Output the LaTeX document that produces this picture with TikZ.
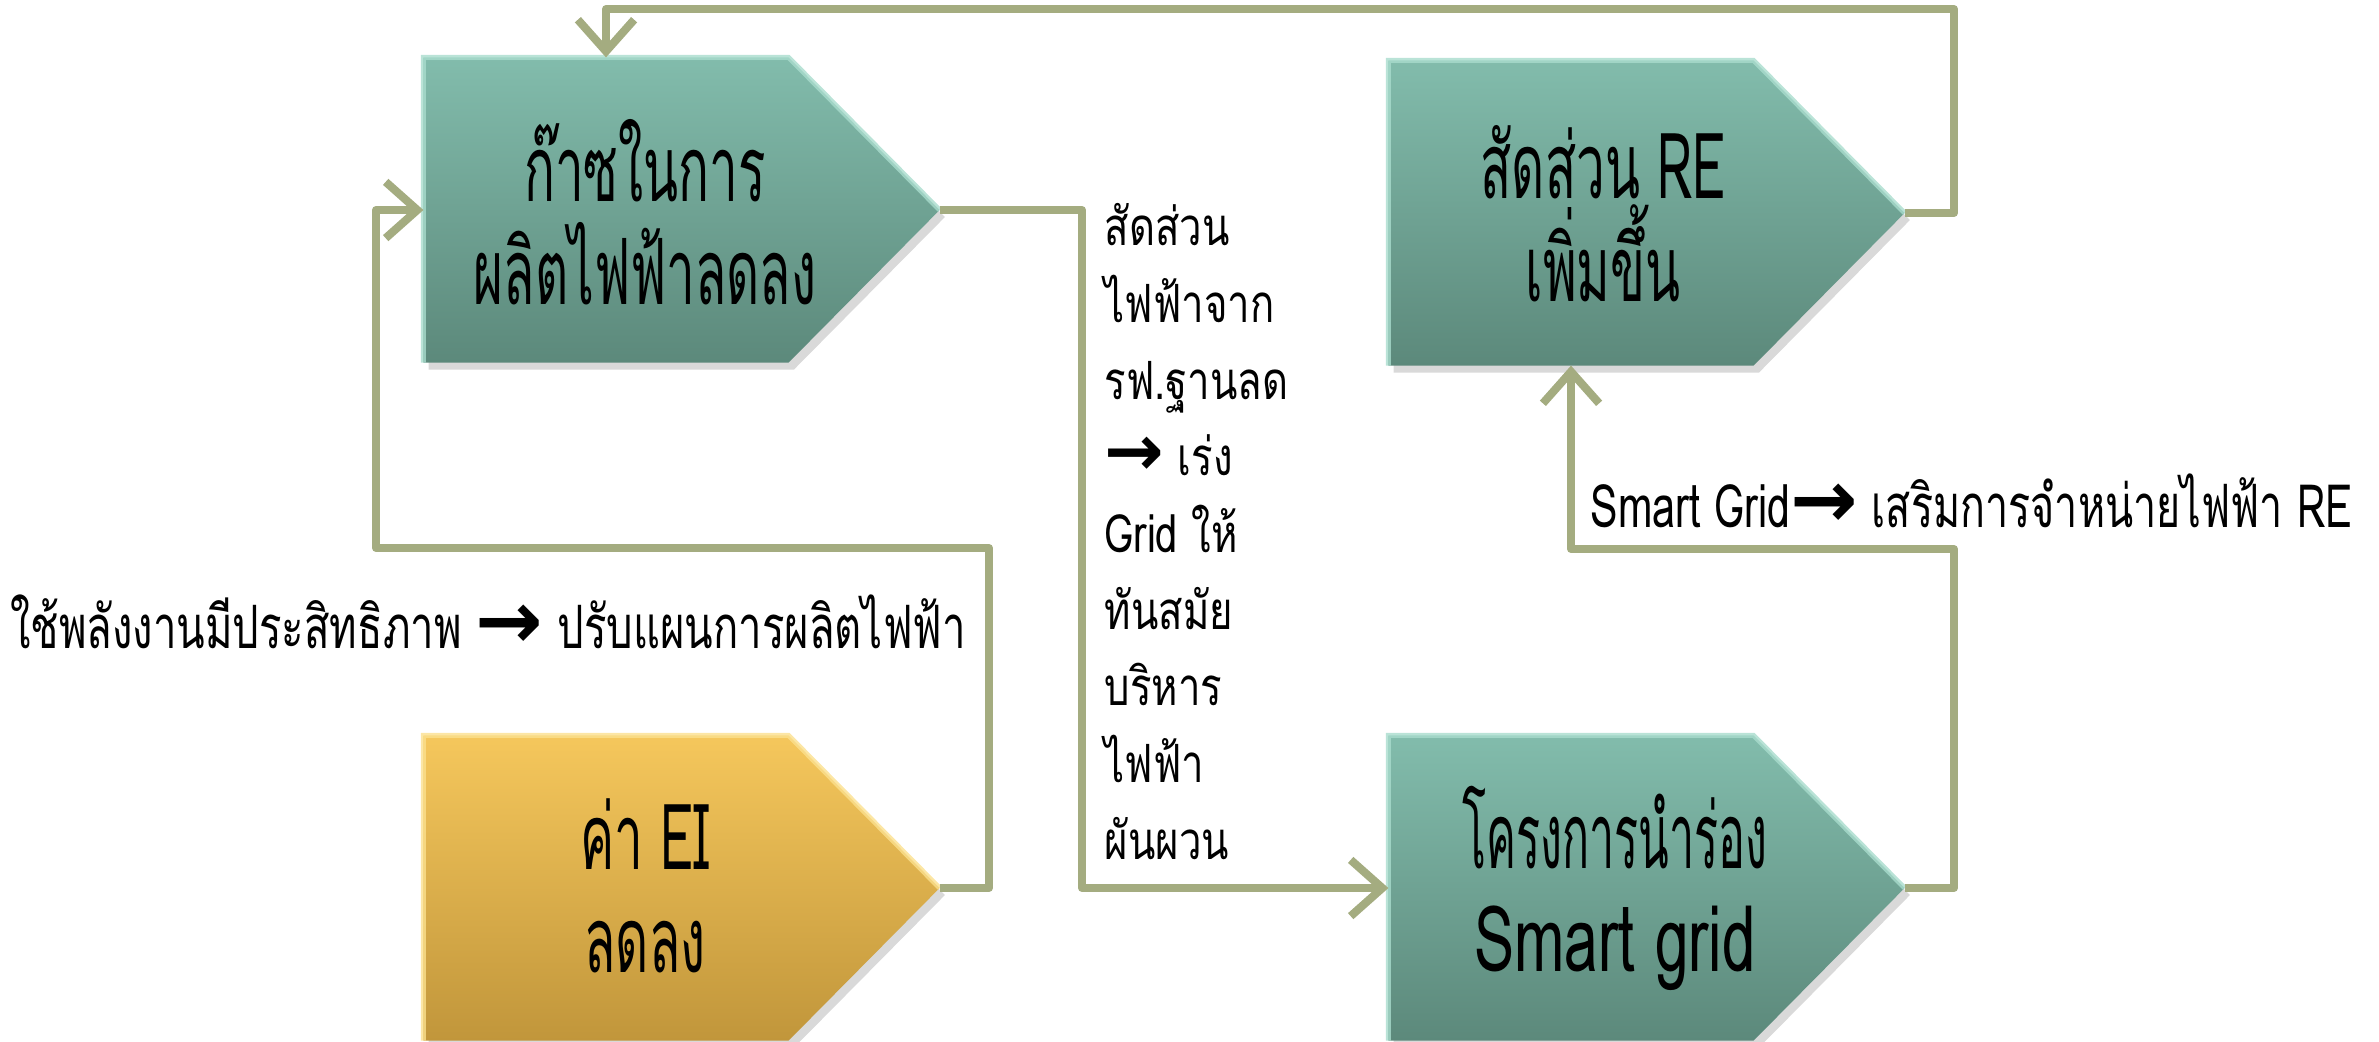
\documentclass[tikz,border=0pt]{standalone}
\usepackage{fontspec}
\usepackage{graphicx}
\usetikzlibrary{arrows.meta,calc,shadows}
\newfontfamily\thaicond[Script=Thai,FakeStretch=0.56]{Loma}
\newfontfamily\thaicondx[Script=Thai,FakeStretch=0.49]{Loma}
\newfontfamily\latcond[Script=Thai,FakeStretch=0.66]{Loma}
\newfontfamily\thaiside[Script=Thai,FakeStretch=0.70]{Loma}
\newfontfamily\thaisidex[Script=Thai,FakeStretch=0.69]{Loma}
\newfontfamily\thaimid[Script=Thai,FakeStretch=0.76]{Loma}
\newfontfamily\symfont{DejaVu Sans}
\definecolor{tealtop}{HTML}{82BCAC}
\definecolor{tealbot}{HTML}{5C897B}
\definecolor{tealhi}{HTML}{A9DCCD}
\definecolor{goldtop}{HTML}{F5C75C}
\definecolor{goldbot}{HTML}{C1963B}
\definecolor{goldhi}{HTML}{FBE08E}
\definecolor{connc}{HTML}{A4AC80}
\newcommand\rarr{\scalebox{1.35}{\symfont\bfseries →}}
\tikzset{
  rectpart/.style={minimum width=3.65cm, minimum height=3.05cm, inner sep=0pt, outer sep=0pt},
  tealfill/.style={top color=tealtop, bottom color=tealbot},
  goldfill/.style={top color=goldtop, bottom color=goldbot},
  shad/.style={drop shadow={opacity=0.3, shadow xshift=1.5pt, shadow yshift=-2pt}},
  conn/.style={draw=connc, line width=2.3pt, line join=round},
  arr/.style={-{Straight Barb[length=9pt,width=16pt]}},
  boxtext/.style={font=\thaicond\fontsize{26}{29.3}\selectfont, align=center, inner sep=0pt},
  sidetext/.style={font=\thaiside\fontsize{17}{20}\selectfont, inner sep=0pt},
  midtext/.style={font=\thaimid\fontsize{15}{21.8}\selectfont, align=left, inner sep=0pt}
}
\begin{document}
\begin{tikzpicture}[x=0.01cm,y=-0.01cm]
\useasboundingbox (0,0) rectangle (2379,1041);
% box frames (named nodes)
\node[rectpart] (gas) at (606,210) {};
\node[rectpart] (re)  at (1571,213) {};
\node[rectpart] (ei)  at (606,888) {};
\node[rectpart] (sg)  at (1571,888) {};
\coordinate (gastip) at ($(gas.east)+(151,0)$);
\coordinate (retip)  at ($(re.east)+(151,0)$);
\coordinate (eitip)  at ($(ei.east)+(151,0)$);
\coordinate (sgtip)  at ($(sg.east)+(151,0)$);
% pentagon arrows
\shade[tealfill, shad] (gas.north west) -- (gas.north east) -- (gastip) -- (gas.south east) -- (gas.south west) -- cycle;
\shade[tealfill, shad] (re.north west) -- (re.north east) -- (retip) -- (re.south east) -- (re.south west) -- cycle;
\shade[goldfill, shad] (ei.north west) -- (ei.north east) -- (eitip) -- (ei.south east) -- (ei.south west) -- cycle;
\shade[tealfill, shad] (sg.north west) -- (sg.north east) -- (sgtip) -- (sg.south east) -- (sg.south west) -- cycle;
% bevel highlights
\draw[tealhi, line width=1.4pt, opacity=0.8] (gas.south west) -- (gas.north west) -- (gas.north east) -- (gastip);
\draw[tealhi, line width=1.4pt, opacity=0.8] (re.south west) -- (re.north west) -- (re.north east) -- (retip);
\draw[goldhi, line width=1.4pt, opacity=0.8] (ei.south west) -- (ei.north west) -- (ei.north east) -- (eitip);
\draw[tealhi, line width=1.4pt, opacity=0.8] (sg.south west) -- (sg.north west) -- (sg.north east) -- (sgtip);
% box texts
\node[boxtext] (gastxt) at (645,212) {ก๊าซในการ\\ผลิตไฟฟ้าลดลง};
\node[boxtext] (retxt)  at (1603,214) {สัดส่วน RE\\เพิ่มขึ้น};
\node[boxtext] (eitxt)  at (645,886) {ค่า EI\\ลดลง};
\node[boxtext] (sgtxt)  at (1615,888) {{\thaicondx โครงการนำร่อง}\\{\latcond Smart grid}};
% connectors
\coordinate (c1) at (1954,9);
\coordinate (c2) at (1082,0);
\coordinate (c3) at (989,548);
\coordinate (c4) at (376,210);
\coordinate (c5) at (1954,549);
\draw[conn, arr] (retip) -| (c1) -| (gas.north);
\draw[conn, arr] (gastip) -| (c2 |- sg.west) -- (sg.west);
\draw[conn, arr] (eitip) -| (c3) -| (c4) -- (gas.west);
\draw[conn, arr] (sgtip) -| (c5) -| (re.south);
% labels
\node[sidetext, anchor=center] (effl) at (488,622) {ใช้พลังงานมีประสิทธิภาพ \rarr{} ปรับแผนการผลิตไฟฟ้า};
\node[sidetext, font=\thaisidex\fontsize{17}{20}\selectfont, anchor=west] (sgl) at (1590,501) {Smart Grid\rarr{} เสริมการจำหน่ายไฟฟ้า RE};
\node[midtext, anchor=north west] (midl) at (1104,203) {สัดส่วน\\ไฟฟ้าจาก\\รฟ.ฐานลด\\\rarr{} เร่ง\\Grid ให้\\ทันสมัย\\บริหาร\\ไฟฟ้า\\ผันผวน};
\end{tikzpicture}
\end{document}
